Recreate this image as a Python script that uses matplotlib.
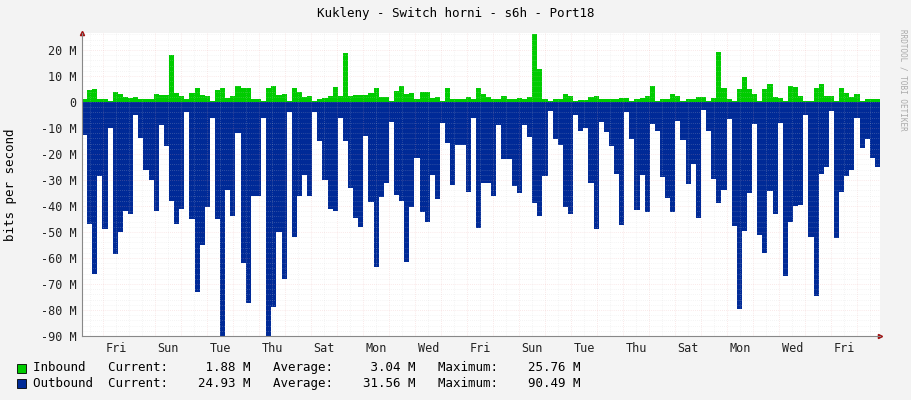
import numpy as np
import matplotlib.pyplot as plt
from matplotlib.ticker import MultipleLocator, FuncFormatter

# traffic samples in Mbit/s, evenly spaced over the month shown
inbound = [1, 4.5, 5, 1.3, 1.3, 0.5, 4, 3, 2, 1.6, 2, 1, 1.3, 1.3, 3, 2.6, 2.6, 18, 3.5, 2.2,
           1, 3.5, 5.5, 2.6, 2.2, 0.5, 4.5, 5.5, 1.6, 2.2, 6, 5.5, 5.2, 1.3, 1, 0.5, 5.2, 6, 2.6, 3,
           0.5, 5.2, 4, 2, 2.2, 0.5, 1.3, 1.6, 2.2, 5.7, 2.2, 19,
           2.2, 2.5, 2.5, 2.5, 3.5, 5.2, 2, 2, 0.5, 4.2, 6, 3, 3.3, 1, 4, 4, 1.6, 2, 0.5, 5.2,
           1.3, 1, 1.3, 2, 1.3, 5.5, 3.1, 2, 1.3, 1, 2.2, 1.3, 1.3, 1.6, 1.3, 2, 26, 12.7, 1, 0.5,
           1.3, 1, 3, 2.2, 0.5, 0.8, 0.8, 2, 2.2, 1, 1, 1.3, 1.3,
           1.6, 1.6, 0.5, 1.3, 1.6, 2.2, 6, 0.5, 1, 1, 3, 2.2, 0.3, 1.3, 1.3, 2, 1.8, 0.3, 1.6, 19.2,
           5.2, 1.3, 0.5, 4.8, 9.4, 4.8, 3.1, 0.5, 4.8, 6.8, 1.8, 1.6, 0.3, 6, 5.7, 2.2, 0.5, 0.3,
           5.5, 6.8, 2.2, 2.2, 0.3, 5.2, 3.5, 1.8, 3.1, 0.3, 1, 1, 1, 1.88]
outbound = [12.8, 47, 66, 28.5, 49, 10, 58.5, 50, 42, 43, 5, 14, 26, 30, 42, 9, 17, 38, 47, 41,
            4, 45, 73, 55, 40.5, 6, 45, 90, 34, 44, 12, 62, 77.5, 36, 36, 6, 90.5, 79, 50, 68,
            4, 52, 36, 28, 36, 4, 15, 30, 41, 42, 6, 15,
            33, 44.5, 48, 13, 38.5, 63.5, 36.6, 31, 7.6, 35.7, 38, 61.5, 40.5, 21.7, 42.5, 46, 28,
            37.4, 8, 15.7, 31.8, 16.5, 16.7, 34.8, 6, 48.4, 31, 31, 36, 8.9, 22, 22, 32.4, 35, 8.9,
            13.5, 38.7, 44, 28.5, 3.4, 14.4, 16.5, 40.5, 43, 5, 11.2, 10.2, 31, 48.8, 7.6, 11.5,
            17, 27.8,
            47.5, 4, 14.4, 41.6, 28, 42.5, 8.5, 11, 28.8, 37, 42.5, 7.3, 14.8, 31.4, 23.7, 44.8, 3,
            11, 29.5, 39, 34, 6.5, 47.6, 79.5, 49.7, 35, 8.5, 51, 58, 34.4, 43, 8, 67, 46, 40,
            39.6, 5, 52, 74.5, 27.6, 25, 3.4, 52.4, 34.8, 28.5, 26.3, 6, 17.8, 14.4, 21.7, 24.93]
day_names = ['Fri', 'Sun', 'Tue', 'Thu', 'Sat', 'Mon', 'Wed', 'Fri', 'Sun', 'Tue', 'Thu',
             'Sat', 'Mon', 'Wed', 'Fri']
legend_rows = [('Inbound ', '1.88', '3.04', '25.76'),
               ('Outbound', '24.93', '31.56', '90.49')]

green = '#00cc00'
blue = '#002a97'
mono = 'DejaVu Sans Mono'

day_px = 26.0
span = 798 / day_px                # days shown
n = min(len(inbound), len(outbound))
step = span / n
x = np.arange(n) * step
first_day = (103.3 - 82) / day_px  # first midnight after graph start

fig = plt.figure(figsize=(9.11, 4.0), dpi=100, facecolor='#f3f3f3')
ax = fig.add_axes([82 / 911, 64 / 400, 798 / 911, 303 / 400])
ax.set_facecolor('white')

ax.bar(x, inbound[:n], width=step, align='edge', color=green, linewidth=0, zorder=2)
ax.bar(x, [-v for v in outbound[:n]], width=step, align='edge', color=blue, linewidth=0, zorder=2)

ax.set_xlim(0, span)
ax.set_ylim(-90, 26.5)

# grid like rrdtool: gray minor, red major, faintly visible over the areas
for k in np.arange(first_day - 0.5, span, 0.5):
    if k < 0:
        continue
    major = abs((k - first_day) % 1) < 1e-6
    ax.axvline(k, color='#e8a0a0' if major else '#d0d0d0', lw=0.6, ls=(0, (1, 1.5)),
               zorder=3, alpha=0.3)
for v in np.arange(-90, 27, 2):
    major = v % 10 == 0
    ax.axhline(v, color='#e8a0a0' if major else '#d0d0d0', lw=0.6, ls=(0, (1, 1.5)),
               zorder=3, alpha=0.3)

ax.yaxis.set_major_locator(MultipleLocator(10))
ax.yaxis.set_major_formatter(FuncFormatter(lambda v, p: f'{int(v)} M' if v != 0 else '0'))
ax.set_xticks([first_day + 0.5 + 2 * i for i in range(len(day_names))])
ax.set_xticklabels(day_names)
ax.tick_params(length=0, labelsize=8.5, colors='#222222', pad=4)
for lab in ax.get_xticklabels() + ax.get_yticklabels():
    lab.set_family(mono)

for s in ['top', 'right']:
    ax.spines[s].set_visible(False)
for s in ['left', 'bottom']:
    ax.spines[s].set_color('#888888')
    ax.spines[s].set_linewidth(0.8)
    ax.spines[s].set_zorder(4)
ax.plot(1, -90, '>', transform=ax.get_yaxis_transform(), clip_on=False, color='#a01010', ms=3)
ax.plot(0, 1, '^', transform=ax.get_xaxis_transform(), clip_on=False, color='#a01010', ms=3)

fig.text(0.5, 1 - 14 / 400, 'Kukleny - Switch horni - s6h - Port18', ha='center', va='center',
         family=mono, fontsize=9)
fig.text(11 / 911, 1 - 185 / 400, 'bits per second', rotation=90, ha='center', va='center',
         family=mono, fontsize=9)
fig.text(903 / 911, 1 - 80 / 400, 'RRDTOOL / TOBI OETIKER', rotation=270, ha='center',
         va='center', family=mono, fontsize=5.5, color='#aaaaaa')

for i, (name, cur, avg, mx) in enumerate(legend_rows):
    yy = 1 - (368 + 15 * i) / 400
    fig.patches.append(plt.Rectangle((17 / 911, yy - 4.5 / 400), 9 / 911, 9 / 400,
                                     transform=fig.transFigure, facecolor=[green, blue][i],
                                     edgecolor='black', lw=0.6))
    fig.text(33 / 911, yy, f'{name}  Current:  {cur:>7} M   Average:  {avg:>7} M   Maximum:  {mx:>7} M',
             va='center', family=mono, fontsize=9)

fig.savefig('out.png', dpi=100, facecolor=fig.get_facecolor())
